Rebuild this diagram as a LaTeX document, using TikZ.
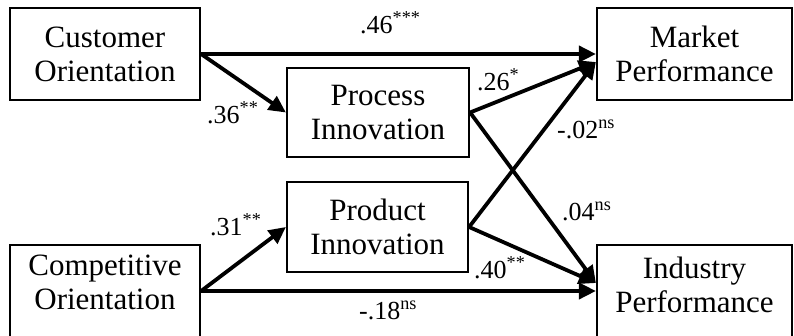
\documentclass[tikz,border=0pt]{standalone}
\usepackage{fontspec}
\setmainfont{Liberation Serif}
\usetikzlibrary{arrows.meta}
\begin{document}
\begin{tikzpicture}[x=1pt,y=-1pt,
  box/.style={draw, line width=2.2pt, rectangle, inner sep=0pt, font=\fontsize{31}{34}\selectfont, align=center},
  conn/.style={line width=3.8pt, -{Triangle[length=17pt,width=16pt]}},
  lab/.style={font=\fontsize{26}{28}\selectfont, anchor=base west, inner sep=0pt}]
\useasboundingbox (0,0) rectangle (794,335);
\clip (0,0) rectangle (794,335);
\node[box, minimum width=190pt, minimum height=92pt] (cust) at (105,54) {Customer\\Orientation};
\node[box, minimum width=190pt, minimum height=92pt] (comp) at (105,291) {\raisebox{5pt}[\height][\depth]{\begin{tabular}{@{}c@{}}Competitive\\Orientation\end{tabular}}};
\node[box, minimum width=182pt, minimum height=89pt] (proc) at (378,112.5) {Process\\Innovation};
\node[box, minimum width=181pt, minimum height=90pt] (prod) at (377.5,227) {Product\\Innovation};
\node[box, minimum width=195pt, minimum height=92pt] (mkt) at (694.5,54) {Market\\Performance};
\node[box, minimum width=195pt, minimum height=92pt] (ind) at (694.5,291) {\raisebox{2pt}[\height][\depth]{\begin{tabular}{@{}c@{}}Industry\\Performance\end{tabular}}};

\draw[conn] (cust.east) -- (mkt.west);
\draw[conn] (cust.east) -- (proc.west);
\draw[conn] (comp.east) -- (prod.west);
\draw[conn] (comp.east) -- (ind.west);
\draw[conn] (proc.east) -- ([yshift=-8pt]mkt.west);
\draw[conn] (proc.east) -- ([yshift=8pt]ind.west);
\draw[conn] (prod.east) -- ([yshift=-8pt]mkt.west);
\draw[conn] (prod.east) -- ([yshift=8pt]ind.west);

\node[lab] (l46) at (360,33) {.46\textsuperscript{***}};
\node[lab] (l36) at (207,123) {.36\textsuperscript{**}};
\node[lab] (l26) at (477,90) {.26\textsuperscript{*}};
\node[lab] (l02) at (557,138) {-.02\textsuperscript{ns}};
\node[lab] (l31) at (210,235) {.31\textsuperscript{**}};
\node[lab] (l04) at (562,220) {.04\textsuperscript{ns}};
\node[lab] (l40) at (474,278) {.40\textsuperscript{**}};
\node[lab] (l18) at (359,319) {-.18\textsuperscript{ns}};
\end{tikzpicture}
\end{document}
